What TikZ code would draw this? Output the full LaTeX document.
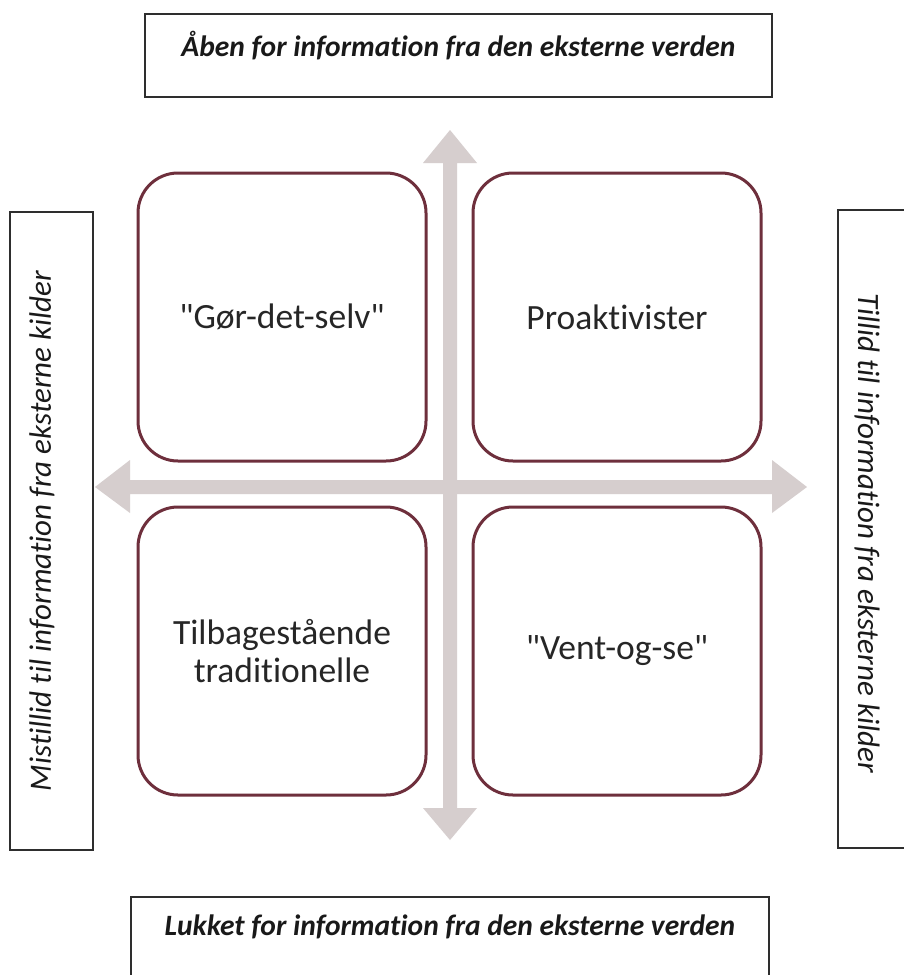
\documentclass[tikz,border=0pt]{standalone}
\usepackage{fontspec}
\setmainfont{Carlito}[Ligatures={TeXOff,CommonOff}]
\definecolor{quadline}{HTML}{6E2F3C}
\definecolor{axisgray}{HTML}{D6CECE}
\definecolor{boxline}{HTML}{2E2E2E}
\begin{document}
\begin{tikzpicture}[x=1pt,y=-1pt,
  quad/.style={draw=quadline, line width=3pt, fill=white, rounded corners=40pt,
    minimum width=288pt, minimum height=288pt, align=center,
    font=\fontsize{35.5}{38}\selectfont, text=black!85},
  framebox/.style={draw=boxline, line width=2.7pt, fill=white, inner sep=0pt},
  framelabel/.style={font=\fontsize{29.5}{34}\selectfont\bfseries\itshape, text=black!90, inner sep=0pt},
  sidelabel/.style={font=\fontsize{31}{34}\selectfont\itshape, text=black!90, inner sep=0pt}
]
\useasboundingbox (0,0) rectangle (904,975);
\fill[white] (0,0) rectangle (904,975);

% axes
\fill[axisgray] (443,163) -- (443,808) -- (423,808) -- (450,840) -- (477,808) -- (457,808)
  -- (457,163) -- (477,163) -- (450,130) -- (423,163) -- (443,163) -- cycle;
\fill[axisgray] (130,480) -- (772,480) -- (772,460) -- (807,487) -- (772,513) -- (772,494)
  -- (130,494) -- (130,513) -- (95,487) -- (130,460) -- (130,480) -- cycle;

% quadrants
\node[quad] (gds) at (282,317) {"Gør-det-selv"};
\node[quad] (pro) at (617,317) {Proaktivister};
\node[quad] (tra) at (282,651) {Tilbagestående\\traditionelle};
\node[quad] (vos) at (617,651) {"Vent-og-se"};

% frame boxes
\node[framebox, minimum width=627pt, minimum height=83pt] (topbox) at (458.5,55.5) {};
\node[framelabel] (toptext) at (458.5,46) {Åben for information fra den eksterne verden};

\node[framebox, minimum width=638pt, minimum height=100pt] (botbox) at (450,947) {};
\node[framelabel] (bottext) at (450,927) {Lukket for information fra den eksterne verden};

\node[framebox, minimum width=83pt, minimum height=638pt] (leftbox) at (51.5,531) {};
\node[sidelabel, rotate=90] (lefttext) at (42,531) {Mistillid til information fra eksterne kilder};

\node[framebox, minimum width=80pt, minimum height=638pt] (rightbox) at (878,529) {};
\node[sidelabel, rotate=-90] (righttext) at (867,533) {Tillid til information fra eksterne kilder};
\end{tikzpicture}
\end{document}
